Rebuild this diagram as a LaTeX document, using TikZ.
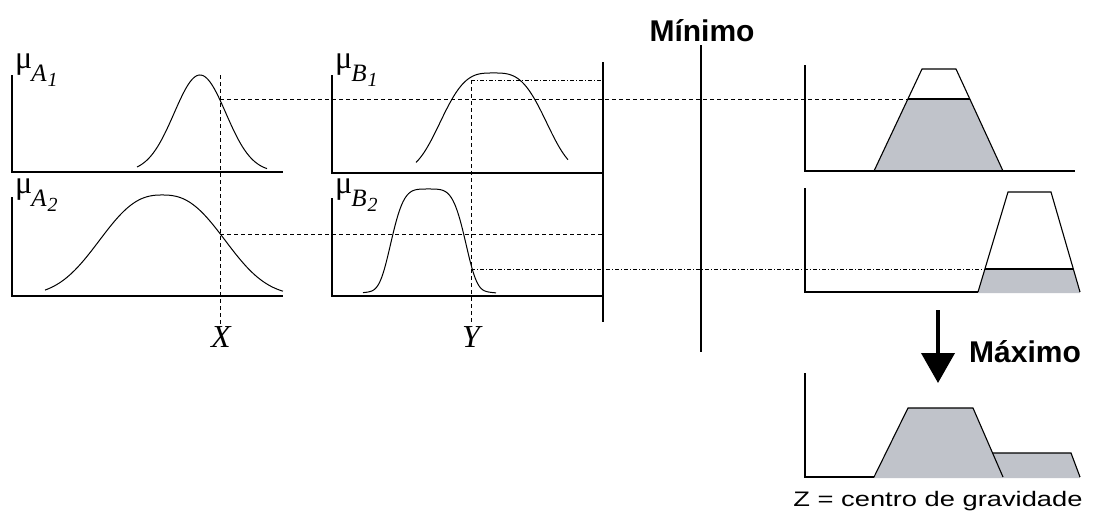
\documentclass[tikz,border=0pt]{standalone}
\usepackage{fontspec}
\usepackage{graphicx}
\newfontfamily\arial{Liberation Sans}
\newfontfamily\tnr{Liberation Serif}
\usetikzlibrary{arrows.meta}
\definecolor{fillgray}{RGB}{192,195,202}
\newcommand{\mulab}[2]{{\fontsize{32}{34}\selectfont μ}\kern-1pt\raisebox{-13pt}{{\fontsize{25}{27}\selectfont\itshape #1}\kern1pt\raisebox{-5pt}{\fontsize{20}{22}\selectfont\itshape #2}}}
\tikzset{
  axis/.style={line width=1.5pt},
  curve/.style={line width=1pt},
  dline/.style={line width=1pt, dash pattern=on 4pt off 3pt},
  ddline/.style={line width=0.9pt, dash pattern=on 4pt off 2pt on 1pt off 2pt},
  mulbl/.style={font=\tnr, inner sep=0pt, anchor=north west},
  varlbl/.style={font=\tnr\itshape\fontsize{32}{34}\selectfont, inner sep=0pt},
  bigtxt/.style={font=\arial\bfseries\fontsize{30}{36}\selectfont, inner sep=0pt, anchor=base},
  smalltxt/.style={font=\arial\fontsize{21}{24}\selectfont, inner sep=0pt, anchor=base},
  trapline/.style={line width=1.1pt}
}
\begin{document}
\begin{tikzpicture}[x=1pt,y=-1pt]
\useasboundingbox (0,0) rectangle (1093,520);

% ---------- axes ----------
\draw[axis] (12,75) -- (12,172) -- (283,172);
\draw[axis] (12,197) -- (12,296) -- (283,296);
\draw[axis] (332,75) -- (332,173) -- (603,173);
\draw[axis] (332,198) -- (332,296) -- (603,296);
\draw[axis] (603,62) -- (603,322);
\draw[axis] (701,45) -- (701,352);
\draw[axis] (805,65) -- (805,171) -- (1075,171);
\draw[axis] (805,188) -- (805,292) -- (1080,292);
\draw[axis] (805,373) -- (805,477) -- (1080,477);

% ---------- membership curves ----------
\draw[curve] plot[domain=137:267, samples=90] (\x, {172-97*exp(-((\x-200)*(\x-200))/1340)});
\draw[curve] plot[domain=45:283, samples=120] (\x, {296-101*exp(-pow(abs(\x-162.3)/77.3+0.0001,2.5))});
\draw[curve] plot[domain=416:568, samples=100] (\x, {173-100*exp(-pow(abs(\x-493.3)/60+0.0001,3.2))});
\draw[curve] plot[domain=363:496, samples=100] (\x, {296-99*exp(-pow(abs(\x-428.3)/40+0.0001,4.5))-8*exp(-pow(abs(\x-428.3)/70,2))});

% ---------- labels ----------
\node[mulbl] (muA1) at (15,54) {\mulab{A}{1}};
\node[mulbl] (muA2) at (15,179) {\mulab{A}{2}};
\node[mulbl] (muB1) at (335,54) {\mulab{B}{1}};
\node[mulbl] (muB2) at (335,179) {\mulab{B}{2}};
\node[varlbl] (X) at (221,337) {X};
\node[varlbl] (Y) at (471,337) {Y};

% ---------- projection lines ----------
\coordinate (xtop) at (220,75);
\coordinate (xbot) at (220,324);
\coordinate (a1) at (220,99);
\coordinate (a2) at (220,234);
\coordinate (ytop) at (471,80);
\coordinate (ybot) at (471,324);
\coordinate (b2) at (471,269);
\coordinate (r1cut) at (907,99);
\coordinate (a2end) at (603,234);
\coordinate (b1end) at (603,80);
\coordinate (r2cut) at (986,269);
\draw[dline] (xtop) -- (xbot);
\draw[dline] (ytop) -- (ybot);
\draw[dline] (a1) -- (r1cut);
\draw[dline] (a2) -- (a2end);
\draw[ddline] (ytop) -- (b1end);
\draw[ddline] (b2) -- (r2cut);

% ---------- consequents ----------
\fill[fillgray] (874,171) -- (907.9,99) -- (969.8,99) -- (1003,171) -- cycle;
\draw[axis] (874,171) -- (1003,171);
\draw[trapline] (874,171) -- (922,69) -- (956,69) -- (1003,171);
\draw[trapline] (907.9,99) -- (969.8,99);

\fill[fillgray] (978,293) -- (985,269) -- (1073.3,269) -- (1080,293) -- cycle;
\draw[trapline] (978,292) -- (1008,192) -- (1051,192) -- (1080,292);
\draw[trapline] (985,269) -- (1073.3,269);

\fill[fillgray] (874,478) -- (908,408) -- (973,408) -- (992.6,453) -- (1071,453) -- (1080,478) -- cycle;
\draw[trapline] (874,477) -- (908,408) -- (973,408) -- (1003,477);
\draw[trapline] (992.6,453) -- (1071,453) -- (1080,477);

% ---------- texts and arrow ----------
\node[bigtxt] (min) at (702,41) {Mínimo};
\node[bigtxt] (max) at (1025,362) {Máximo};
\coordinate (arrtop) at (938,310);
\coordinate (arrtip) at (938,383);
\draw[line width=4pt, -{Triangle[width=33pt,length=30pt]}] (arrtop) -- (arrtip);
\node[smalltxt] (z) at (938,506) {\scalebox{1.3}[1]{Z = centro de gravidade}};
\end{tikzpicture}
\end{document}
